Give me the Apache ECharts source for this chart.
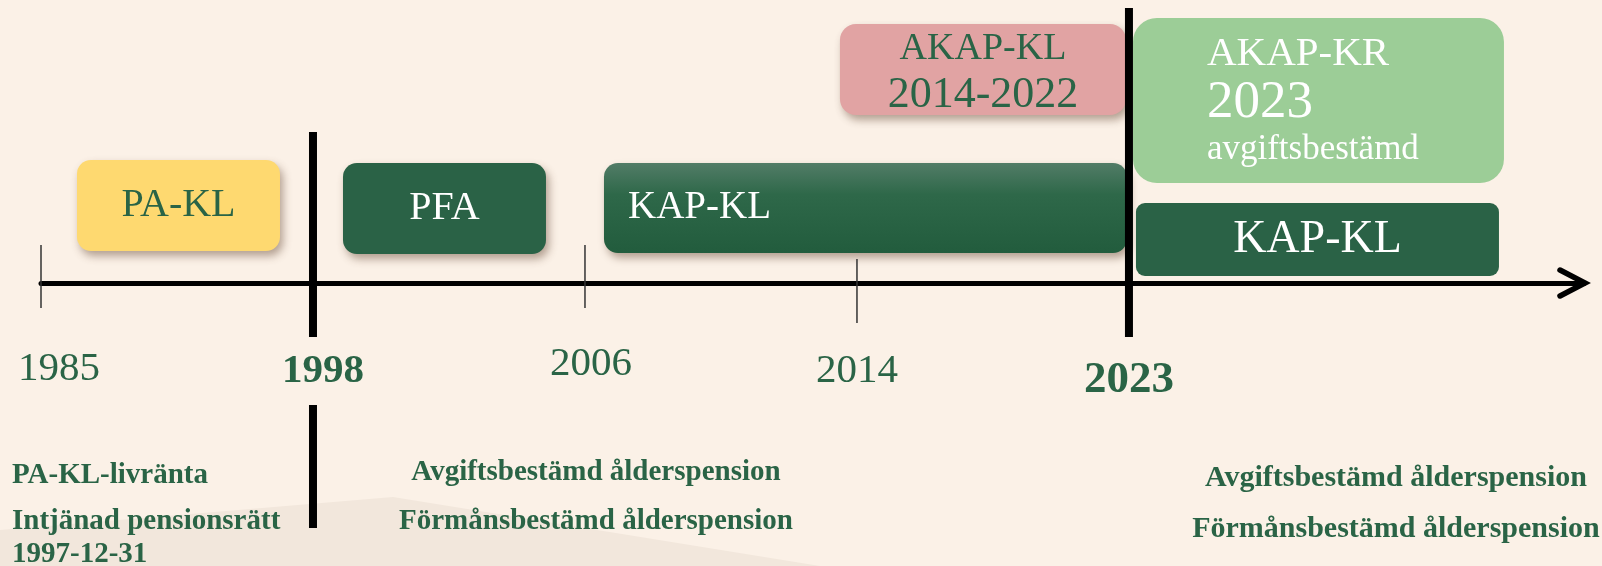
<!DOCTYPE html>
<html>
<head>
<meta charset="utf-8">
<title>Tjänstepension KL - tidslinje</title>
<script src="https://cdn.jsdelivr.net/npm/echarts@6/dist/echarts.min.js"></script>
<style>
  html, body { margin: 0; padding: 0; background: #FBF1E7; }
  #main { width: 1602px; height: 566px; }
</style>
</head>
<body>
<div id="main"></div>
<script>
// milstolpar på tidslinjen
var years = [1985, 1998, 2006, 2014, 2023];
var majorYears = [1998, 2023];

// avtalen: start- och slutår (null = gäller fortfarande)
var planNames = ['PA-KL', 'PFA', 'KAP-KL', 'AKAP-KL', 'AKAP-KR', 'KAP-KL'];
var planText = ['PA-KL', 'PFA', 'KAP-KL', 'AKAP-KL\n2014-2022', 'AKAP-KR\n2023\navgiftsbestämd', 'KAP-KL'];
var planStart = [1985, 1998, 2006, 2014, 2023, 2023];
var planEnd = [1998, 2006, 2023, 2023, null, null];

// texter under axeln
var notesOld = ['PA-KL-livränta', 'Intjänad pensionsrätt', '1997-12-31'];
var notesMid = ['Avgiftsbestämd ålderspension', 'Förmånsbestämd ålderspension'];
var notesNew = ['Avgiftsbestämd ålderspension', 'Förmånsbestämd ålderspension'];

var green = '#2A6446';
var serif = "'Liberation Serif', 'DejaVu Serif', serif";
var xMax = 5.673;

var kapGradient = new echarts.graphic.LinearGradient(0, 0, 0, 1, [
    { offset: 0, color: '#527C67' },
    { offset: 0.35, color: '#2E6849' },
    { offset: 1, color: '#225C3D' }
]);

// utseende per ruta (px ovanför axeln); lines = [storlek, avstånd från överkant]
var planLayout = [
    { fill: '#FED970', color: green, top: 123, bottom: 32, dx0: 36, dx1: -33, r: 14, shadow: true, size: 40, align: 'center' },
    { fill: '#2A6246', color: '#fff', top: 120, bottom: 29, dx0: 30, dx1: -39, r: 14, shadow: true, size: 40, align: 'center' },
    { fill: kapGradient, color: '#fff', top: 120, bottom: 30, dx0: 19, dx1: -2, r: 14, shadow: true, size: 39, align: 'left', tx: 24 },
    { fill: '#E1A3A3', color: green, top: 259, bottom: 168, dx0: -17, dx1: -3, r: 16, shadow: true, align: 'center',
      lines: [[38, 25], [44, 71]] },
    { fill: '#9CCD97', color: '#fff', top: 265, bottom: 100, dx0: 4, width: 371, r: 24, shadow: false, align: 'left', tx: 74,
      lines: [[41, 36], [53, 85], [35, 132]] },
    { fill: '#2A6246', color: '#fff', top: 80, bottom: 7, dx0: 7, width: 363, r: 9, shadow: false, size: 46, align: 'center' }
];

var tickLayout = {
    1985: { up: 38, down: 25, w: 1.5, labelSize: 41, labelDx: 18, labelDy: 86 },
    1998: { up: 151, down: 54, w: 8, low: [122, 245], labelSize: 41, labelDx: 10, labelDy: 88 },
    2006: { up: 38, down: 25, w: 1.5, labelSize: 41, labelDx: 6, labelDy: 81 },
    2014: { up: 24, down: 40, w: 1.5, labelSize: 41, labelDx: 0, labelDy: 88 },
    2023: { up: 275, down: 54, w: 8, labelSize: 45, labelDx: 0, labelDy: 97 }
};

var noteGroups = [notesOld, notesMid, notesNew];
var noteLayout = [
    { anchor: 0, dx: -29, align: 'left', ys: [-193, -239, -272], size: 29 },
    { anchor: 2, dx: 11, align: 'center', ys: [-190, -239], size: 29 },
    { anchor: 4, dx: 267, align: 'center', ys: [-195, -246], size: 30 }
];

var planData = planNames.map(function (n, i) {
    var s = years.indexOf(planStart[i]);
    var e = planEnd[i] == null ? s : years.indexOf(planEnd[i]);
    return [s, e, i];
});
var tickData = years.map(function (y, i) { return [i, y]; });
var noteData = [];
noteGroups.forEach(function (g, gi) {
    g.forEach(function (t, li) { noteData.push([noteLayout[gi].anchor, gi, li]); });
});

function yPx(api, h) { return api.coord([0, h])[1]; }

function renderPlan(params, api) {
    var i = api.value(2);
    var L = planLayout[i];
    var x0 = api.coord([api.value(0), 0])[0] + L.dx0;
    var x1 = planEnd[i] == null ? x0 + L.width : api.coord([api.value(1), 0])[0] + L.dx1;
    var yTop = yPx(api, L.top), yBot = yPx(api, L.bottom);
    var rectStyle = { fill: L.fill };
    if (L.shadow) {
        rectStyle.shadowBlur = 8;
        rectStyle.shadowOffsetX = 3;
        rectStyle.shadowOffsetY = 5;
        rectStyle.shadowColor = 'rgba(90,60,40,0.45)';
    }
    var children = [{
        type: 'rect',
        shape: { x: x0, y: yTop, width: x1 - x0, height: yBot - yTop, r: L.r },
        style: rectStyle
    }];
    var tx = L.align === 'center' ? (x0 + x1) / 2 : x0 + L.tx;
    if (L.lines) {
        planText[i].split('\n').forEach(function (t, k) {
            children.push({
                type: 'text',
                style: {
                    text: t, x: tx, y: yTop + L.lines[k][1],
                    fill: L.color, fontSize: L.lines[k][0], fontFamily: serif,
                    align: L.align, verticalAlign: 'middle'
                }
            });
        });
    } else {
        children.push({
            type: 'text',
            style: {
                text: planText[i], x: tx, y: (yTop + yBot) / 2,
                fill: L.color, fontSize: L.size, fontFamily: serif,
                align: L.align, verticalAlign: 'middle'
            }
        });
    }
    return { type: 'group', children: children };
}

function renderTick(params, api) {
    var year = api.value(1);
    var T = tickLayout[year];
    var major = majorYears.indexOf(year) >= 0;
    var x = api.coord([api.value(0), 0])[0];
    var children = [{
        type: 'line',
        shape: { x1: x, y1: yPx(api, T.up), x2: x, y2: yPx(api, -T.down) },
        style: { stroke: major ? '#000' : '#333', lineWidth: T.w }
    }];
    if (T.low) {
        children.push({
            type: 'line',
            shape: { x1: x, y1: yPx(api, -T.low[0]), x2: x, y2: yPx(api, -T.low[1]) },
            style: { stroke: '#000', lineWidth: T.w }
        });
    }
    children.push({
        type: 'text',
        style: {
            text: String(year), x: x + T.labelDx, y: yPx(api, -T.labelDy),
            fill: green, fontSize: T.labelSize, fontFamily: serif,
            fontWeight: major ? 'bold' : 'normal',
            align: 'center', verticalAlign: 'middle'
        }
    });
    return { type: 'group', children: children };
}

function renderNote(params, api) {
    var gi = api.value(1), li = api.value(2);
    var N = noteLayout[gi];
    var x = api.coord([api.value(0), 0])[0] + N.dx;
    return {
        type: 'text',
        style: {
            text: noteGroups[gi][li], x: x, y: yPx(api, N.ys[li]),
            fill: green, fontSize: N.size, fontFamily: serif, fontWeight: 'bold',
            align: N.align, verticalAlign: 'middle'
        }
    };
}

function renderArrow(params, api) {
    var p = api.coord([api.value(0), 0]);
    return {
        type: 'polyline',
        shape: { points: [[p[0] - 24, p[1] - 13], [p[0] + 1, p[1]], [p[0] - 24, p[1] + 13]] },
        style: { stroke: '#000', lineWidth: 5.5, lineCap: 'round', lineJoin: 'miter', fill: null }
    };
}

var myChart = echarts.init(document.getElementById('main'));

var option = {
    backgroundColor: '#FBF1E7',
    animation: false,
    graphic: [{
        type: 'polygon',
        z: -10,
        silent: true,
        shape: { points: [[0, 530], [393, 497], [820, 566], [0, 566]] },
        style: { fill: '#F2E7DC' }
    }],
    grid: { left: 41, right: 18, top: 0, bottom: 283, outerBoundsMode: 'none' },
    xAxis: {
        type: 'value',
        min: 0,
        max: xMax,
        axisLine: { show: true, lineStyle: { color: '#000', width: 5 } },
        axisTick: { show: false },
        axisLabel: { show: false },
        splitLine: { show: false }
    },
    yAxis: { type: 'value', min: 0, max: 283, show: false },
    series: [
        { type: 'custom', name: 'avtal', silent: true, renderItem: renderPlan, data: planData, z: 3 },
        { type: 'custom', name: 'milstolpar', silent: true, renderItem: renderTick, data: tickData, z: 5 },
        { type: 'custom', name: 'texter', silent: true, renderItem: renderNote, data: noteData, z: 4 },
        { type: 'custom', name: 'pil', silent: true, renderItem: renderArrow, data: [[xMax, 0]], z: 5 }
    ]
};

myChart.setOption(option);
</script>
</body>
</html>
